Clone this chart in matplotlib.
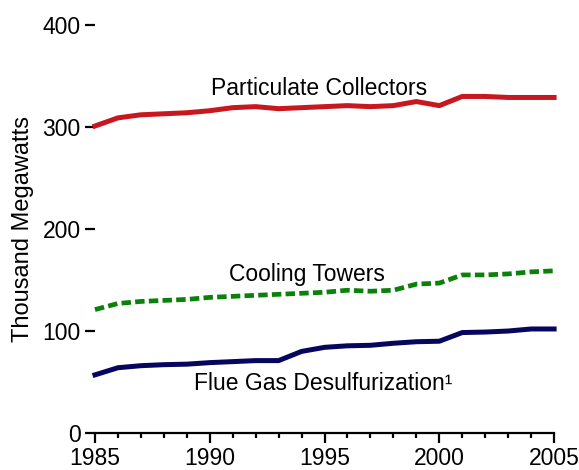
import numpy as np
import matplotlib.pyplot as plt
from matplotlib.ticker import MultipleLocator

plt.rcParams['font.family'] = ['Liberation Sans', 'DejaVu Sans']

years = list(range(1985, 2006))

# Thousand megawatts
particulate = [301, 309, 312, 313, 314, 316, 319, 320, 318, 319, 320, 321,
               320, 321, 325, 321, 330, 330, 329, 329, 329]
cooling = [121, 127, 129, 130, 131, 133, 134, 135, 136, 137, 138, 140,
           139, 140, 146, 147, 155, 155, 156, 158, 159]
fgd = [57, 64, 66, 67, 67.5, 69, 70, 71, 71, 80, 84, 85.5,
       86, 88, 89.5, 90, 98.5, 99, 100, 102, 102]

fig = plt.figure(figsize=(5.79, 4.70), dpi=100)
ax = fig.add_axes([0.164, 0.0787, 0.793, 0.868])

ax.plot(years, particulate, color='#C8171E', linewidth=3.6, clip_on=False)
ax.plot(years, cooling, color='#0B800B', linewidth=3.4, dashes=(2.0, 0.9), clip_on=False)
ax.plot(years, fgd, color='#06065F', linewidth=3.6, clip_on=False)

ax.text(1994.75, 338, 'Particulate Collectors', ha='center', va='center', fontsize=16.5)
ax.text(1994.25, 155, 'Cooling Towers', ha='center', va='center', fontsize=16.5)
ax.text(1994.95, 49, 'Flue Gas Desulfurization\u00b9', ha='center', va='center', fontsize=16.5)

ax.set_xlim(1985, 2005)
ax.set_ylim(0, 400)
ax.xaxis.set_major_locator(MultipleLocator(5))
ax.xaxis.set_minor_locator(MultipleLocator(1))
ax.yaxis.set_major_locator(MultipleLocator(100))

for s in ['top', 'right', 'left']:
    ax.spines[s].set_visible(False)
ax.spines['bottom'].set_linewidth(1.6)

ax.tick_params(axis='x', which='major', length=7, width=1.6, labelsize=16.5, pad=3)
ax.tick_params(axis='x', which='minor', length=3.5, width=1.6)
ax.tick_params(axis='y', length=7.2, width=1.6, labelsize=16.5, pad=3)

ax.set_ylabel('Thousand Megawatts', fontsize=17, labelpad=6)

fig.savefig('out.png', dpi=100)
